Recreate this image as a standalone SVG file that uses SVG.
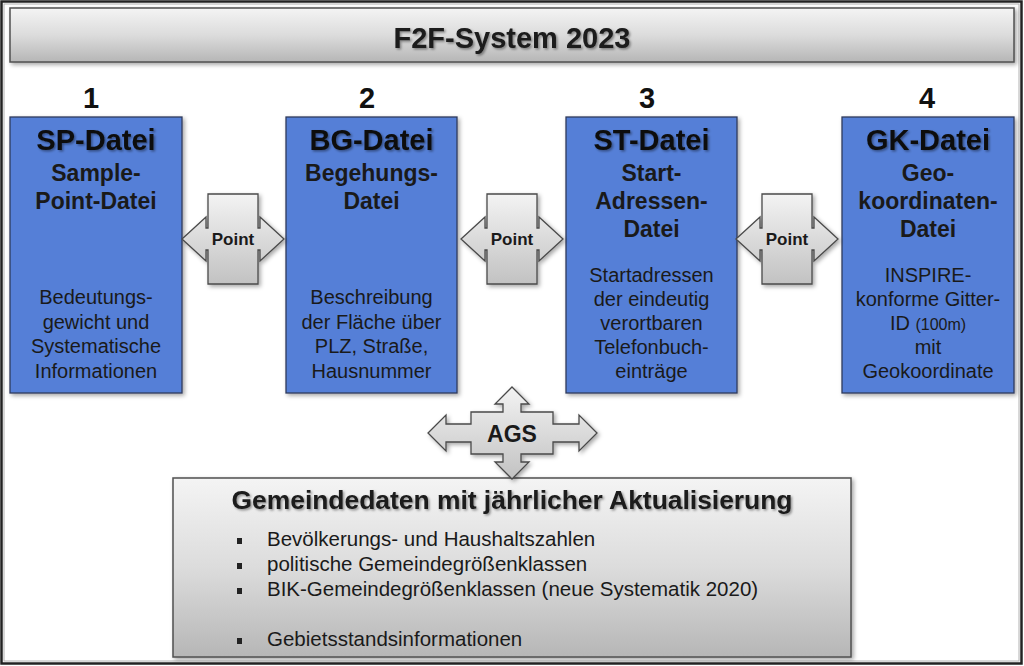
<svg xmlns="http://www.w3.org/2000/svg" width="1024" height="666" viewBox="0 0 1024 666">
  <defs>
    <linearGradient id="grayV" x1="0" y1="0" x2="0" y2="1">
      <stop offset="0" stop-color="#f4f4f4"/>
      <stop offset="0.5" stop-color="#dcdcdc"/>
      <stop offset="1" stop-color="#b6b6b6"/>
    </linearGradient>
    <linearGradient id="arrowG" x1="0" y1="0" x2="0" y2="1">
      <stop offset="0" stop-color="#f3f3f3"/>
      <stop offset="1" stop-color="#c2c2c2"/>
    </linearGradient>
    <filter id="shadow" x="-10%" y="-10%" width="120%" height="130%">
      <feDropShadow dx="2" dy="2" stdDeviation="2" flood-color="#000" flood-opacity="0.35"/>
    </filter>
    <filter id="tshadow" x="-10%" y="-30%" width="120%" height="160%">
      <feDropShadow dx="1.5" dy="1.5" stdDeviation="1.2" flood-color="#000" flood-opacity="0.4"/>
    </filter>
  </defs>
  <style>
    text { font-family: "Liberation Sans", Arial, sans-serif; fill: #1a1a1a; }
    .box { fill: #557fd7; stroke: #2e3b5c; stroke-width: 1.3; }
    .gbox { fill: url(#grayV); stroke: #505050; stroke-width: 1.5; }
    .arr { fill: url(#arrowG); stroke: #4a4a4a; stroke-width: 1.3; }
    .hd { font-size: 29px; font-weight: bold; text-anchor: middle; fill: #111; }
    .sub { font-size: 23px; font-weight: bold; text-anchor: middle; }
    .body { font-size: 20px; text-anchor: middle; }
    .num { font-size: 29px; font-weight: bold; text-anchor: middle; fill: #111; }
    .pt { font-size: 17px; font-weight: bold; text-anchor: middle; }
    .li { font-size: 20.5px; }
  </style>

  <rect x="1.5" y="1.5" width="1020" height="662" fill="#ffffff" stroke="#222" stroke-width="2.5"/>
  <rect x="4" y="4" width="1015" height="657" fill="none" stroke="#b0b0b0" stroke-width="1"/>

  <g id="title">
    <rect class="gbox" x="10" y="8" width="1004" height="54" filter="url(#shadow)"/>
    <text x="512" y="48" font-size="29" font-weight="bold" text-anchor="middle" fill="#111" filter="url(#tshadow)">F2F-System 2023</text>
  </g>

  <g id="numbers">
    <text class="num" x="91" y="108">1</text>
    <text class="num" x="367" y="108">2</text>
    <text class="num" x="647" y="108">3</text>
    <text class="num" x="927" y="108">4</text>
  </g>

  <g id="sp-datei">
    <rect class="box" x="10" y="117" width="172" height="276" filter="url(#shadow)"/>
    <text class="hd" x="96" y="150" filter="url(#tshadow)">SP-Datei</text>
    <text class="sub" x="96" y="181">Sample-</text>
    <text class="sub" x="96" y="209">Point-Datei</text>
    <text class="body" x="96" y="304">Bedeutungs-</text>
    <text class="body" x="96" y="329">gewicht und</text>
    <text class="body" x="96" y="353">Systematische</text>
    <text class="body" x="96" y="378">Informationen</text>
  </g>

  <g id="bg-datei">
    <rect class="box" x="286" y="117" width="171" height="276" filter="url(#shadow)"/>
    <text class="hd" x="371.5" y="150" filter="url(#tshadow)">BG-Datei</text>
    <text class="sub" x="371.5" y="181">Begehungs-</text>
    <text class="sub" x="371.5" y="209">Datei</text>
    <text class="body" x="371.5" y="304">Beschreibung</text>
    <text class="body" x="371.5" y="329">der Fläche über</text>
    <text class="body" x="371.5" y="353">PLZ, Straße,</text>
    <text class="body" x="371.5" y="378">Hausnummer</text>
  </g>

  <g id="st-datei">
    <rect class="box" x="566" y="117" width="171" height="276" filter="url(#shadow)"/>
    <text class="hd" x="651.5" y="150" filter="url(#tshadow)">ST-Datei</text>
    <text class="sub" x="651.5" y="181">Start-</text>
    <text class="sub" x="651.5" y="209">Adressen-</text>
    <text class="sub" x="651.5" y="237">Datei</text>
    <text class="body" x="651.5" y="282">Startadressen</text>
    <text class="body" x="651.5" y="306">der eindeutig</text>
    <text class="body" x="651.5" y="330">verortbaren</text>
    <text class="body" x="651.5" y="354">Telefonbuch-</text>
    <text class="body" x="651.5" y="378">einträge</text>
  </g>

  <g id="gk-datei">
    <rect class="box" x="842" y="117" width="172" height="276" filter="url(#shadow)"/>
    <text class="hd" x="928" y="150" filter="url(#tshadow)">GK-Datei</text>
    <text class="sub" x="928" y="181">Geo-</text>
    <text class="sub" x="928" y="209">koordinaten-</text>
    <text class="sub" x="928" y="237">Datei</text>
    <text class="body" x="928" y="282">INSPIRE-</text>
    <text class="body" x="928" y="306">konforme Gitter-</text>
    <text class="body" x="928" y="330">ID <tspan font-size="16">(100m)</tspan></text>
    <text class="body" x="928" y="354">mit</text>
    <text class="body" x="928" y="378">Geokoordinate</text>
  </g>

  <g id="gemeindedaten">
    <rect class="gbox" x="173" y="478" width="678" height="179" filter="url(#shadow)"/>
    <text x="512" y="509" font-size="25" font-weight="bold" text-anchor="middle" fill="#111" textLength="561" lengthAdjust="spacingAndGlyphs" filter="url(#tshadow)">Gemeindedaten mit jährlicher Aktualisierung</text>
    <g fill="#222">
      <rect x="237" y="538" width="5" height="6"/>
      <rect x="237" y="563" width="5" height="6"/>
      <rect x="237" y="588" width="5" height="6"/>
      <rect x="237" y="638" width="5" height="6"/>
    </g>
    <text class="li" x="267" y="546">Bevölkerungs- und Haushaltszahlen</text>
    <text class="li" x="267" y="571">politische Gemeindegrößenklassen</text>
    <text class="li" x="267" y="596">BIK-Gemeindegrößenklassen (neue Systematik 2020)</text>
    <text class="li" x="267" y="646">Gebietsstandsinformationen</text>
  </g>

  <g id="connectors">
    <g id="point-1-2" filter="url(#shadow)">
      <path class="arr" d="M208,194 H258 V228 H260 V217 L284,239 L260,261 V250 H258 V284 H208 V250 H206 V261 L182,239 L206,217 V228 H208 Z"/>
    </g>
    <text class="pt" x="233" y="245">Point</text>
    <g id="point-2-3" filter="url(#shadow)">
      <path class="arr" d="M487,194 H537 V228 H539 V217 L563,239 L539,261 V250 H537 V284 H487 V250 H485 V261 L461,239 L485,217 V228 H487 Z"/>
    </g>
    <text class="pt" x="512" y="245">Point</text>
    <g id="point-3-4" filter="url(#shadow)">
      <path class="arr" d="M762,194 H812 V228 H814 V217 L838,239 L814,261 V250 H812 V284 H762 V250 H760 V261 L736,239 L760,217 V228 H762 Z"/>
    </g>
    <text class="pt" x="787" y="245">Point</text>
    <g id="ags" filter="url(#shadow)">
      <path class="arr" d="M512,387 L529,404 H521 V412 H553 V424 H579 V415 L597,433 L579,451 V442 H553 V454 H521 V462 H529 L512,479 L495,462 H503 V454 H471 V442 H446 V451 L428,433 L446,415 V424 H471 V412 H503 V404 H495 Z"/>
    </g>
    <text x="512" y="442" font-size="23" font-weight="bold" text-anchor="middle" fill="#111">AGS</text>
  </g>
</svg>
